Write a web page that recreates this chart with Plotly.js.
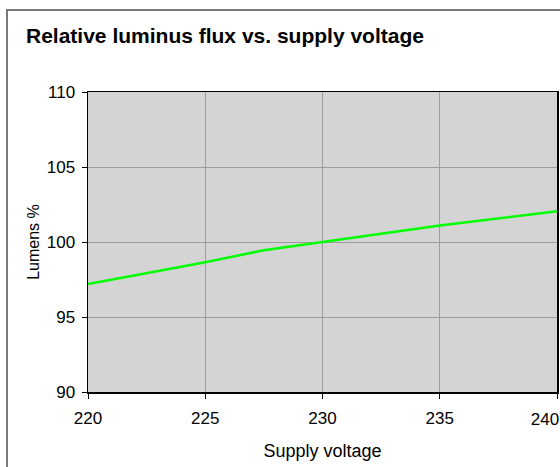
<!DOCTYPE html>
<html>
<head>
<meta charset="utf-8">
<script src="https://cdn.plot.ly/plotly-3.0.1.min.js"></script>
<style>
  html, body { margin: 0; padding: 0; background: #fff; overflow: hidden; }
  #wrap { position: relative; width: 560px; height: 467px; overflow: hidden; background: #fff; }
  #chart { position: absolute; left: 0; top: 0; width: 560px; height: 467px; }
  #frame { position: absolute; left: 6px; top: 9px; width: 600px; height: 500px;
           border: 2px solid #7a7a7a; pointer-events: none; box-sizing: border-box; }
</style>
</head>
<body>
<div id="wrap">
  <div id="chart"></div>
  <div id="frame"></div>
</div>
<script>
const voltage = [220, 225, 227.5, 230, 235, 240];
const lumens = [97.2, 98.65, 99.45, 100, 101.1, 102.05];
const xTicks = [220, 225, 230, 235, 240];
const yTicks = [90, 95, 100, 105, 110];

const FONT = "Liberation Sans, Arial, sans-serif";

const lastX = xTicks[xTicks.length - 1];

const trace = {
  x: voltage,
  y: lumens,
  type: 'scatter',
  mode: 'lines',
  line: { color: '#00ff00', width: 2.5 },
  hoverinfo: 'skip'
};

const commonTickFont = { family: FONT, size: 17, color: '#000' };

const layout = {
  width: 560,
  height: 467,
  margin: { l: 88, r: 3, t: 92, b: 75 },
  paper_bgcolor: 'rgba(0,0,0,0)',
  plot_bgcolor: '#d4d4d4',
  showlegend: false,
  font: { family: FONT, color: '#000', size: 17 },
  title: {
    text: '<b>Relative luminus flux vs. supply voltage</b>',
    font: { family: FONT, size: 21, color: '#000' },
    xref: 'container', yref: 'container',
    x: 26 / 560, xanchor: 'left',
    y: 1 - 36 / 467, yanchor: 'middle'
  },
  xaxis: {
    range: [220, 240],
    tickvals: xTicks,
    ticktext: xTicks.map(v => v === lastX ? '' : String(v)),
    ticks: 'outside', ticklen: 5, tickcolor: '#000', tickwidth: 1,
    ticklabelstandoff: 5,
    showline: true, linecolor: '#000', linewidth: 1.5, mirror: true,
    showgrid: true, gridcolor: '#9c9c9c', gridwidth: 1,
    zeroline: false,
    tickfont: commonTickFont,
    title: { text: 'Supply voltage', font: { family: FONT, size: 18 }, standoff: 17 }
  },
  // companion axis carrying only the last label, pulled inward as in the original
  xaxis2: {
    overlaying: 'x',
    matches: 'x',
    side: 'bottom',
    range: [220, 240],
    tickvals: [lastX],
    ticktext: [String(lastX)],
    ticks: '',
    ticklabelstandoff: 15,
    ticklabelshift: -12,
    showline: false, showgrid: false, zeroline: false,
    tickfont: commonTickFont
  },
  yaxis: {
    range: [90, 110],
    tickvals: yTicks,
    ticktext: yTicks.map(String),
    ticks: 'outside', ticklen: 5, tickcolor: '#000', tickwidth: 1,
    ticklabelstandoff: 3,
    showline: true, linecolor: '#000', linewidth: 1.5, mirror: true,
    showgrid: true, gridcolor: '#9c9c9c', gridwidth: 1,
    zeroline: false,
    tickfont: commonTickFont,
    title: { text: 'Lumens %', font: { family: FONT, size: 16 }, standoff: 3 }
  }
};

const helper = { x: [lastX], y: [null], xaxis: 'x2', yaxis: 'y', type: 'scatter', mode: 'lines', hoverinfo: 'skip', showlegend: false };

Plotly.newPlot('chart', [trace, helper], layout, { staticPlot: true, displayModeBar: false });
</script>
</body>
</html>
